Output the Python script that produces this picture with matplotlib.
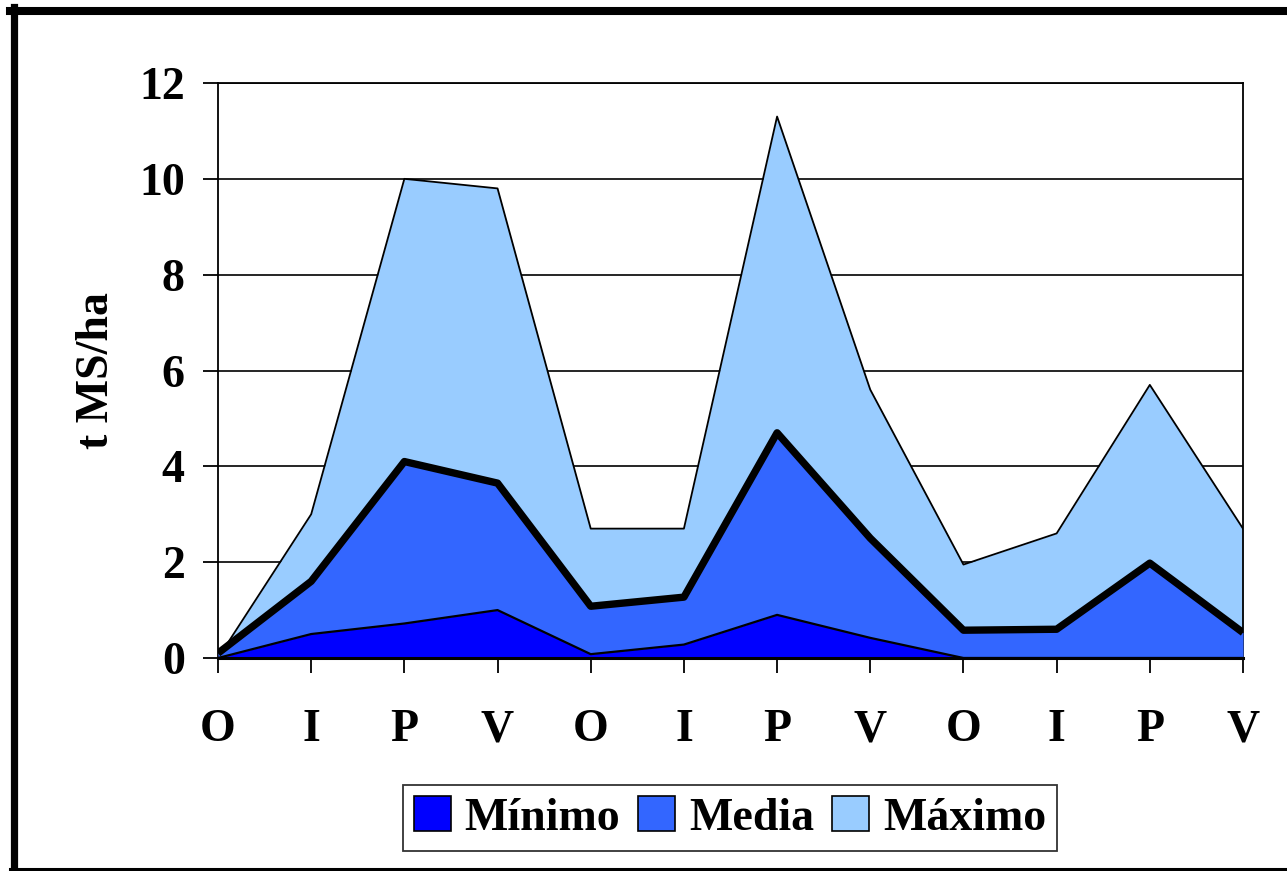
import matplotlib.pyplot as plt
from matplotlib.lines import Line2D
from matplotlib.patches import Patch

# Data
estaciones = ["O", "I", "P", "V", "O", "I", "P", "V", "O", "I", "P", "V"]
maximo = [0.0, 3.0, 10.0, 9.8, 2.7, 2.7, 11.3, 5.6, 1.95, 2.6, 5.7, 2.7]
media = [0.1, 1.6, 4.1, 3.65, 1.08, 1.27, 4.7, 2.5, 0.58, 0.6, 1.98, 0.53]
minimo = [0.0, 0.5, 0.72, 1.0, 0.08, 0.28, 0.9, 0.42, 0.0, 0.0, 0.0, 0.0]
yticks = [0, 2, 4, 6, 8, 10, 12]

c_min = "#0000FF"
c_med = "#3366FF"
c_max = "#99CCFF"

plt.rcParams["font.family"] = ["Liberation Serif", "DejaVu Serif"]
plt.rcParams["font.weight"] = "bold"

fig = plt.figure(figsize=(12.87, 8.71), dpi=100)
ax = fig.add_axes([218 / 1287, 1 - 658 / 871, (1243 - 218) / 1287, (658 - 83) / 871])

x = list(range(len(estaciones)))

# gridlines
for yv in yticks[1:]:
    ax.axhline(yv, color="black", lw=1.2, zorder=1)

# overlapping areas
ax.fill_between(x, maximo, 0, color=c_max, lw=0, zorder=2)
ax.plot(x, maximo, color="black", lw=1.3, zorder=3)
ax.fill_between(x, media, 0, color=c_med, lw=0, zorder=4)
ax.plot(x, media, color="black", lw=5.3, solid_joinstyle="round",
        solid_capstyle="butt", zorder=5)
ax.fill_between(x, minimo, 0, color=c_min, lw=0, zorder=6)
ax.plot(x, minimo, color="black", lw=1.6, zorder=7)

ax.set_xlim(0, len(estaciones) - 1)
ax.set_ylim(0, 12)
ax.set_xticks(x)
ax.set_xticklabels(estaciones)
ax.set_yticks(yticks)
ax.tick_params(axis="x", direction="out", length=11, width=1.3, pad=26,
               labelsize=33)
ax.tick_params(axis="y", direction="out", length=11, width=1.3, pad=13,
               labelsize=33)
for lab in ax.get_xticklabels() + ax.get_yticklabels():
    lab.set_fontweight("bold")

for side in ["left", "right", "top"]:
    ax.spines[side].set_linewidth(1.3)
ax.spines["bottom"].set_linewidth(2.2)
ax.spines["bottom"].set_zorder(8)

ax.set_ylabel("t MS/ha", fontsize=33, fontweight="bold", labelpad=15)

handles = [Patch(facecolor=c_min, edgecolor="black", lw=1.2),
           Patch(facecolor=c_med, edgecolor="black", lw=1.2),
           Patch(facecolor=c_max, edgecolor="black", lw=1.2)]
leg = fig.legend(handles, ["Mínimo", "Media", "Máximo"], ncol=3,
                 loc="center", bbox_to_anchor=(730 / 1287, 1 - 818 / 871),
                 fancybox=False, frameon=True,
                 prop={"weight": "bold", "size": 33},
                 handlelength=0.8, handleheight=0.8, handletextpad=0.3,
                 columnspacing=0.4, borderpad=0.25, borderaxespad=0)
leg.get_frame().set_edgecolor("black")
leg.get_frame().set_linewidth(1.3)

# outer chart border (cropped at right/bottom)
fig.add_artist(Line2D([13.5 / 1287, 13.5 / 1287], [0, 1 - 7 / 871],
                      color="black", lw=5.2, transform=fig.transFigure))
fig.add_artist(Line2D([10 / 1287, 1], [1 - 11 / 871, 1 - 11 / 871],
                      color="black", lw=5.8, transform=fig.transFigure))
fig.add_artist(Line2D([10 / 1287, 1], [2 / 871, 2 / 871],
                      color="black", lw=2.2, transform=fig.transFigure))

fig.savefig("out.png", dpi=100)
